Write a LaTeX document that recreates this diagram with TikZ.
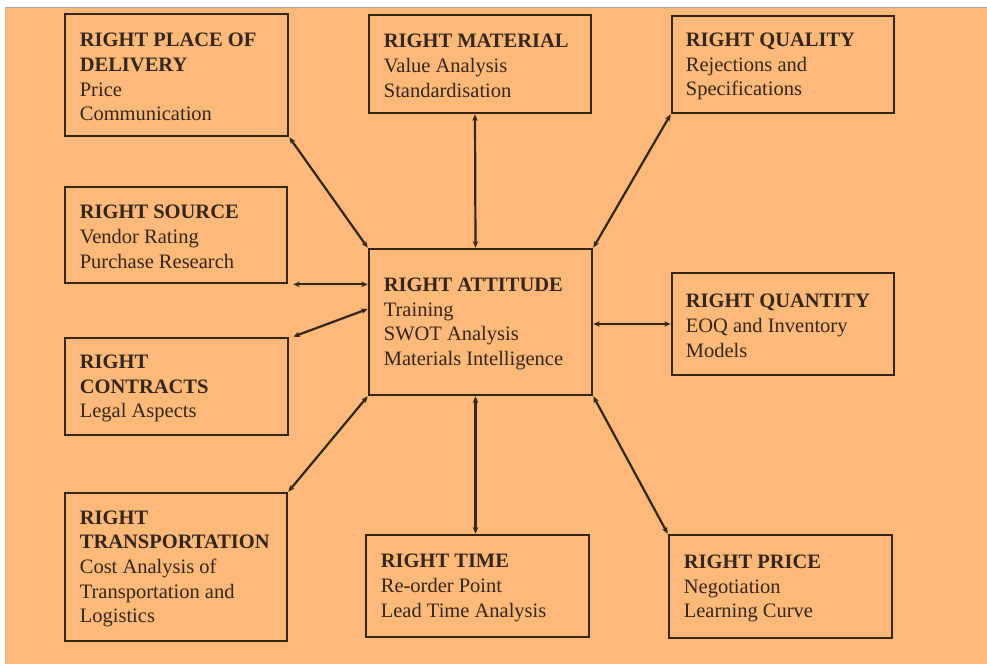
\documentclass[tikz,border=0pt]{standalone}
\usepackage{fontspec}
\setmainfont{Liberation Serif}
\usetikzlibrary{arrows.meta}
\definecolor{bgorange}{RGB}{253,185,122}
\definecolor{ink}{RGB}{52,38,26}
\tikzset{
  box/.style={draw=ink, line width=2.7pt, rectangle, inner sep=0pt},
  txt/.style={anchor=west, align=left, inner sep=0pt, text=ink, yshift=-2pt,
    font=\fontsize{20.5pt}{24.7pt}\selectfont},
  link/.style={draw=ink, line width=2.2pt,
    {Stealth[length=6.5pt,width=5.5pt]}-{Stealth[length=6.5pt,width=5.5pt]}}
}
\begin{document}
\begin{tikzpicture}[x=1pt,y=-1pt]
\useasboundingbox (0,0) rectangle (987,664);
\fill[white] (0,0) rectangle (987,664);
\fill[bgorange] (5,7) rectangle (987,664);
\draw[gray!70, line width=0.6pt] (5,7) -- (987,7);

% boxes
\node[box, minimum width=223pt, minimum height=122pt] (pod) at (176.5,75) {};
\node[box, minimum width=222pt, minimum height=98pt]  (mat) at (480,64) {};
\node[box, minimum width=222pt, minimum height=97pt]  (qua) at (783,64.5) {};
\node[box, minimum width=222pt, minimum height=96pt]  (src) at (176,235) {};
\node[box, minimum width=223pt, minimum height=97pt]  (con) at (176.5,386.5) {};
\node[box, minimum width=223pt, minimum height=146pt] (att) at (480.5,322) {};
\node[box, minimum width=222pt, minimum height=102pt] (qty) at (783,324) {};
\node[box, minimum width=222pt, minimum height=148pt] (tra) at (176,567) {};
\node[box, minimum width=223pt, minimum height=102pt] (tim) at (477.5,586) {};
\node[box, minimum width=223pt, minimum height=103pt] (pri) at (780.5,586.5) {};

% texts
\node[txt] (podt) at ([xshift=16pt]pod.west) {\textbf{RIGHT PLACE OF}\\\textbf{DELIVERY}\\Price\\Communication};
\node[txt] (matt) at ([xshift=16pt]mat.west) {\textbf{RIGHT MATERIAL}\\Value Analysis\\Standardisation};
\node[txt] (quat) at ([xshift=15pt]qua.west) {\textbf{RIGHT QUALITY}\\Rejections and\\Specifications};
\node[txt] (srct) at ([xshift=16pt]src.west) {\textbf{RIGHT SOURCE}\\Vendor Rating\\Purchase Research};
\node[txt] (cont) at ([xshift=16pt]con.west) {\textbf{RIGHT}\\\textbf{CONTRACTS}\\Legal Aspects};
\node[txt] (attt) at ([xshift=16pt]att.west) {\textbf{RIGHT ATTITUDE}\\Training\\SWOT Analysis\\Materials Intelligence};
\node[txt] (qtyt) at ([xshift=15pt]qty.west) {\textbf{RIGHT QUANTITY}\\EOQ and Inventory\\Models};
\node[txt] (trat) at ([xshift=16pt]tra.west) {\textbf{RIGHT}\\\textbf{TRANSPORTATION}\\Cost Analysis of\\Transportation and\\Logistics};
\node[txt] (timt) at ([xshift=16pt]tim.west) {\textbf{RIGHT TIME}\\Re-order Point\\Lead Time Analysis};
\node[txt] (prit) at ([xshift=16pt]pri.west) {\textbf{RIGHT PRICE}\\Negotiation\\Learning Curve};

% connectors
\draw[link] (pod.south east) -- (att.north west);
\draw[link] ([xshift=-5pt]mat.south) -- ([xshift=-5pt]att.north);
\draw[link] (qua.south west) -- (att.north east);
\draw[link] ([xshift=5pt]src.south east) -- (src.south east -| att.west);
\draw[link] ([xshift=4pt]con.north east) -- ([yshift=13pt]att.west);
\draw[link] (att.east |- qty.west) -- (qty.west);
\draw[link] (tra.north east) -- (att.south west);
\draw[link] ([xshift=-5pt]att.south) -- ([xshift=-5pt]att.south |- tim.north);
\draw[link] (pri.north west) -- (att.south east);
\end{tikzpicture}
\end{document}
